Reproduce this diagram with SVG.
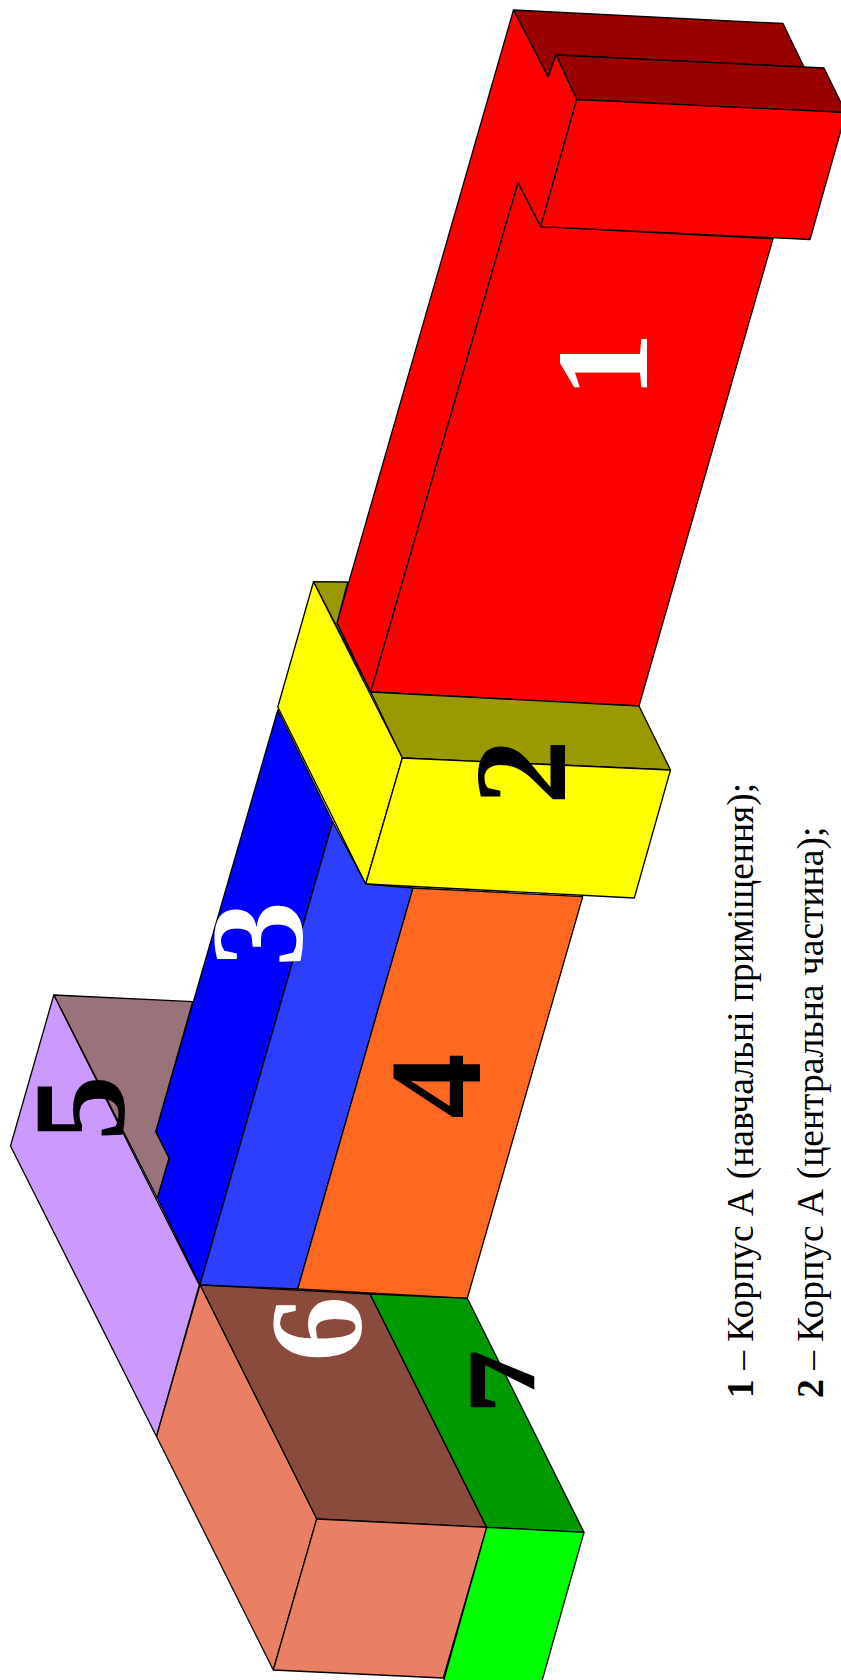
<svg xmlns="http://www.w3.org/2000/svg" width="841" height="1680" viewBox="0 0 841 1680">
<style>
polygon{stroke:#000;stroke-width:1.3;stroke-linejoin:round}
.d{font-family:"Liberation Serif","Times New Roman",serif;font-weight:bold;font-size:131px;text-anchor:middle}
.t{font-family:"Liberation Serif","Times New Roman",serif;font-size:37.6px;fill:#000}
</style>
<defs><clipPath id="cut7"><rect x="440" y="1330" width="94.3" height="90"/></clipPath></defs>
<rect width="841" height="1680" fill="#fff"/>
<g id="node-1">
<polygon fill="#990000" points="513.5,10 783,23.5 804,67 556,55 548,77"/>
<polygon fill="#990000" points="556,55 824,68 846,113 576.7,99.5"/>
<polygon fill="#ff0000" points="513.5,10 548,77 556,55 576.7,99.5 540.7,226.7 518,182.7 370.7,692 337,623"/>
<polygon fill="#ff0000" points="518,182.7 540.7,226.7 773,238.7 639,706 370.7,692"/>
<polygon fill="#ff0000" points="576.7,99.5 846,112.5 810,239.5 540.7,226.7"/>
<text class="d" fill="#fff" transform="translate(647.3,365) rotate(-90)">1</text>
</g>
<g id="node-2">
<polygon fill="#999900" points="313.5,581.7 347.7,582 337,623 370.7,692"/>
<polygon fill="#999900" points="370.7,692 639,706 670.5,770 402.3,758"/>
<polygon fill="#ffff00" points="313.5,581.7 277.8,707 365.7,884 402.3,758"/>
<polygon fill="#ffff00" points="402.3,758 670.5,770 634.3,898 365.7,884"/>
<text class="d" fill="#000" transform="translate(565,772) rotate(-90)">2</text>
</g>
<g id="node-3">
<polygon fill="#0000ff" points="277.8,710 332.7,821.7 200,1285 157.3,1198 169,1158.3 155.7,1131.7"/>
<polygon fill="#2c3fff" points="332.7,821.7 365.7,884 413,888 297.7,1289 200,1285"/>
<text class="d" fill="#fff" transform="translate(302,934) rotate(-90)">3</text>
</g>
<g id="node-4">
<polygon fill="#ff6820" points="413,888 582.7,896.7 467.3,1298.3 297.7,1289"/>
<text class="d" fill="#000" transform="translate(480,1086) rotate(-90)">4</text>
</g>
<g id="node-5">
<polygon fill="#9a737a" points="53.8,995 192.7,1001.7 155.7,1131.7 169,1158.3 157.3,1198"/>
<polygon fill="#cc99ff" points="53.8,995 10.5,1146 156.5,1436.5 199.3,1285"/>
<text class="d" fill="#000" transform="translate(124,1108) rotate(-90)">5</text>
</g>
<g id="node-6">
<polygon fill="#8a4b3d" points="200,1285 370,1294 486.7,1527.3 316.7,1519"/>
<polygon fill="#e98066" points="200,1285 316.7,1519 273.3,1670 156.5,1436.5"/>
<polygon fill="#e98066" points="316.7,1519 486.7,1527.3 443.3,1678 273.3,1670"/>
<text class="d" fill="#fff" transform="translate(360.5,1329) rotate(-90)">6</text>
</g>
<g id="node-7">
<polygon fill="#009900" points="370,1294 467.3,1298.3 584,1532.3 486.7,1527.3"/>
<polygon fill="#00ff00" points="486.7,1527.3 584,1532.3 541.7,1682 443.3,1682"/>
<g clip-path="url(#cut7)"><text class="d" fill="#000" transform="translate(557,1382) rotate(-90)">7</text></g>
</g>
<g id="caption">
<text class="t" transform="translate(752.7,1398) rotate(-90)"><tspan font-weight="bold">1</tspan> – Корпус А (навчальні приміщення);</text>
<text class="t" transform="translate(822.7,1398) rotate(-90)"><tspan font-weight="bold">2</tspan> – Корпус А (центральна частина);</text>
</g>
</svg>
